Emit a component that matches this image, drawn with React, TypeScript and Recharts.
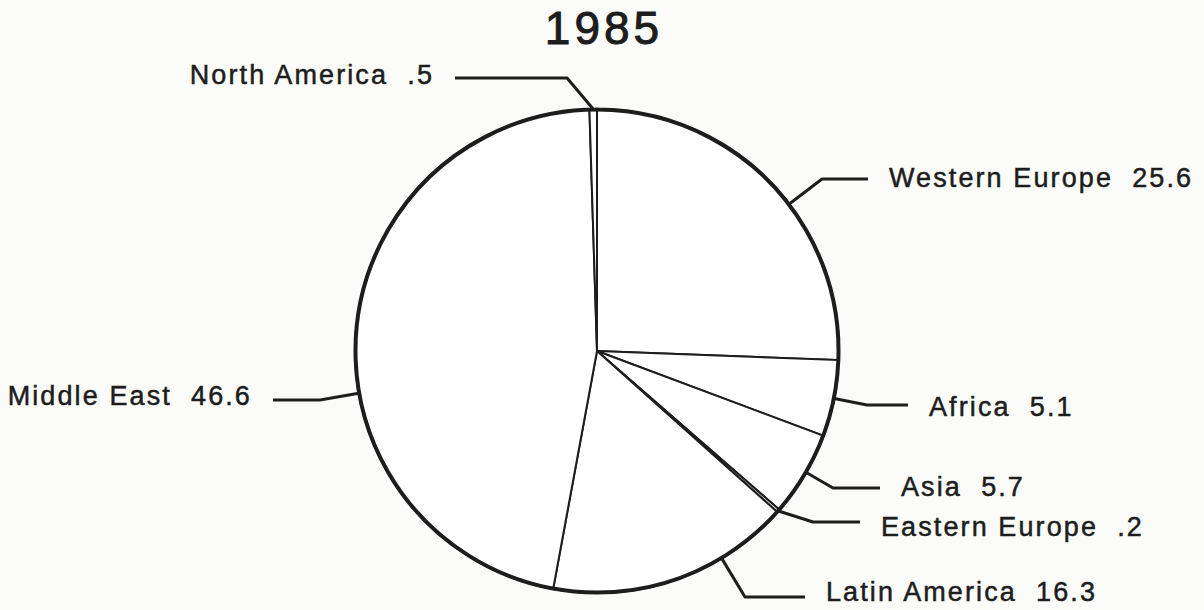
import { PieChart, Pie, Cell } from 'recharts';

const year = '1985';
const regions = ['Western Europe', 'Africa', 'Asia', 'Eastern Europe', 'Latin America', 'Middle East', 'North America'];
const shares = [25.6, 5.1, 5.7, 0.2, 16.3, 46.6, 0.5];
const shareLabels = ['25.6', '5.1', '5.7', '.2', '16.3', '46.6', '.5'];

const data = regions.map((name, i) => ({ name, value: shares[i] }));

const INK = '#1d1d1d';
const PAPER = '#fbfbf9';
const FONT = '"Liberation Sans", Arial, Helvetica, sans-serif';

// leader placement, offsets from the pie centre: y of the horizontal run, x of the bend,
// x where the run ends, and a small vertical nudge for the text
const leaders: { y: number; bend: number; end: number; dy: number }[] = [
  { y: -172, bend: 225, end: 271, dy: -1 },
  { y: 54, bend: 270, end: 311, dy: 2 },
  { y: 137, bend: 236, end: 283, dy: -1 },
  { y: 171, bend: 216, end: 263, dy: 5 },
  { y: 246, bend: 148, end: 208, dy: -5 },
  { y: 49, bend: -277, end: -324, dy: -4 },
  { y: -273, bend: -30, end: -142, dy: -3 },
];

const RAD = Math.PI / 180;

function inSlice(deg: number, a: number, b: number) {
  const lo = Math.min(a, b);
  const hi = Math.max(a, b);
  return [deg, deg - 360, deg + 360].some((d) => d >= lo && d <= hi);
}

function LeaderLabel(props: any) {
  const { cx, cy, midAngle, outerRadius, startAngle, endAngle, index } = props;
  const l = leaders[index];
  const left = l.end < 0;
  const y = cy + l.y;
  const bx = cx + l.bend;
  const ex = cx + l.end;
  // aim the leader at its bend when that still lands inside the slice, else use the slice middle
  const toBend = Math.atan2(-(y - cy), bx - cx) / RAD;
  const ang = inSlice(toBend, startAngle, endAngle) ? toBend : midAngle;
  const sx = cx + outerRadius * Math.cos(-ang * RAD);
  const sy = cy + outerRadius * Math.sin(-ang * RAD);
  const tx = ex + (left ? -21 : 21);
  return (
    <g>
      <polyline
        points={`${sx},${sy} ${bx},${y} ${ex},${y}`}
        fill="none"
        stroke={INK}
        strokeWidth={3}
        strokeLinejoin="round"
      />
      <text
        x={tx}
        y={y + l.dy}
        textAnchor={left ? 'end' : 'start'}
        dominantBaseline="central"
        fill={INK}
        stroke={INK}
        strokeWidth={0.5}
        fontFamily={FONT}
        fontSize={27}
        letterSpacing={2.1}
        style={{ whiteSpace: 'pre' }}
      >
        {`${regions[index]}  ${shareLabels[index]}`}
      </text>
    </g>
  );
}

export default function App() {
  return (
    <div style={{ position: 'absolute', left: 0, top: 0, width: 1204, height: 610, background: PAPER }}>
      <div
        style={{
          position: 'absolute',
          left: 2,
          width: 1204,
          top: 5,
          textAlign: 'center',
          fontFamily: FONT,
          fontSize: 46,
          lineHeight: 1,
          letterSpacing: 4,
          color: INK,
          WebkitTextStroke: '1px ' + INK,
        }}
      >
        {year}
      </div>
      <PieChart
        width={1204}
        height={610}
        margin={{ top: 0, right: 0, bottom: 0, left: 0 }}
        style={{ position: 'absolute', left: 0, top: 0 }}
      >
        <Pie
          data={data}
          dataKey="value"
          nameKey="name"
          cx={597}
          cy={351}
          outerRadius={242}
          startAngle={90}
          endAngle={-270}
          stroke={INK}
          strokeWidth={2}
          label={LeaderLabel}
          labelLine={false}
          isAnimationActive={false}
        >
          {data.map((d) => (
            <Cell key={d.name} fill="#ffffff" />
          ))}
        </Pie>
        <Pie
          data={[{ name: 'rim', value: 1 }]}
          dataKey="value"
          cx={597}
          cy={351}
          innerRadius={241}
          outerRadius={242}
          startAngle={90}
          endAngle={-270}
          fill="none"
          stroke={INK}
          strokeWidth={3}
          isAnimationActive={false}
        />
      </PieChart>
    </div>
  );
}
